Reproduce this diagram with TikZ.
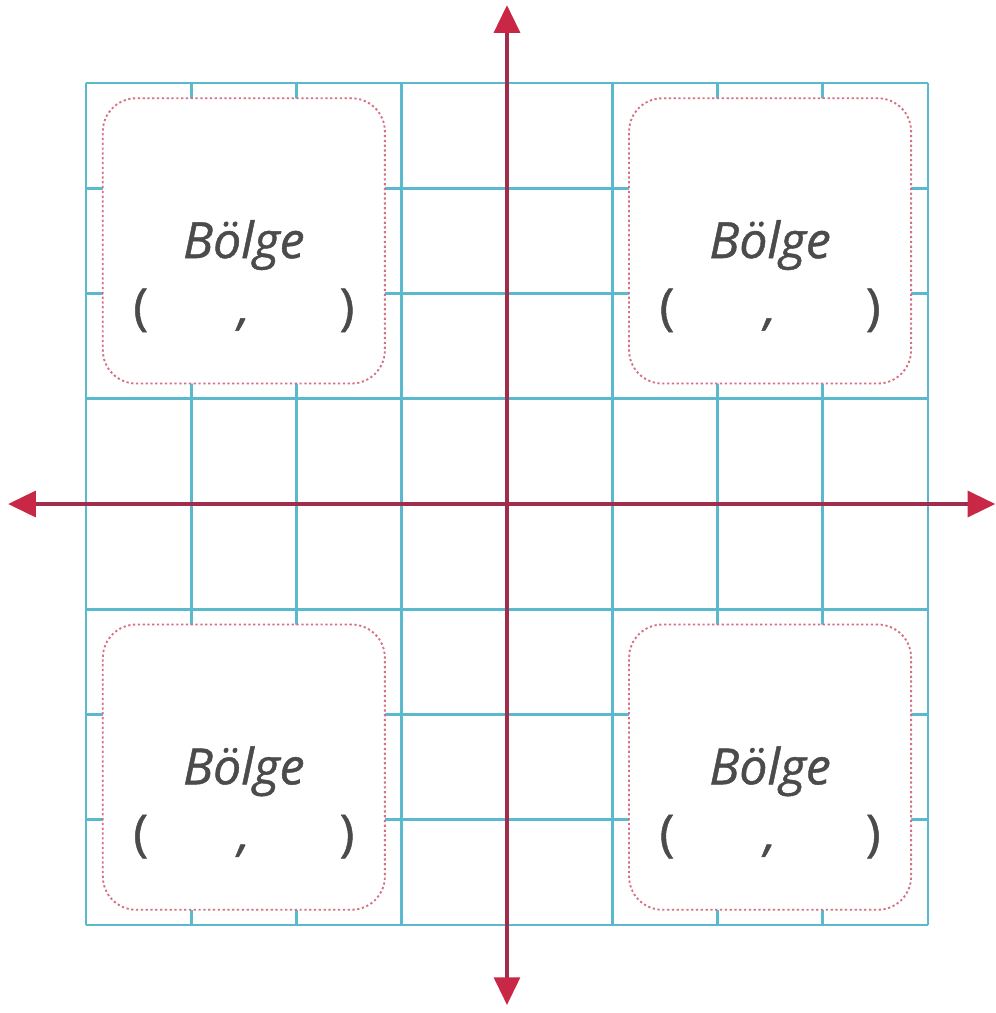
\documentclass[tikz,border=0pt]{standalone}
\usepackage{fontspec}
\setmainfont{Open Sans}
\newfontfamily\regionfont{Open Sans}[FakeBold=0.9]
\usepackage{tikz}
\usetikzlibrary{arrows.meta,positioning}
\definecolor{gridcyan}{RGB}{90,185,205}
\definecolor{axisred}{RGB}{160,45,75}
\definecolor{tipred}{RGB}{200,40,70}
\definecolor{dotred}{RGB}{215,110,130}
\definecolor{textgray}{RGB}{75,75,75}
\tikzset{every picture/.style={line width=0.75pt}}
\tikzset{
  gridline/.style={draw=gridcyan, line width=0.7pt},
  region/.style={draw=dotred, line width=0.5pt, dash pattern=on 0.6pt off 0.7pt,
    fill=white, rounded corners=9pt, minimum width=2.68cm, minimum height=2.71cm, inner sep=0pt},
  regionlabel/.style={text=textgray, font=\regionfont\itshape\fontsize{13.5}{15}\selectfont},
  regionpar/.style={text=textgray, font=\regionfont\fontsize{13.5}{15}\selectfont, inner sep=0pt,
    text height=0.76em, text depth=0.24em},
  axis/.style={draw=axisred, line width=1pt,
    {Triangle[length=7.5pt,width=7pt,color=tipred]}-{Triangle[length=7.5pt,width=7pt,color=tipred]}}
}
\begin{document}
\begin{tikzpicture}
\useasboundingbox (-4.817,-4.836) rectangle (4.646,4.789);
% grid
\draw[gridline] (-4,-4) grid (4,4);
% regions
\foreach \name/\sx/\sy in {I/1/1, II/-1/1, III/-1/-1, IV/1/-1}{
  \node[region] (\name) at ({2.5*\sx},{2.5*\sy}) {};
  \node[regionlabel] (\name-title) at ([yshift=-0.04cm]\name.center) {Bölge};
  \node[regionpar] (\name-comma) at ([yshift=-0.7cm]\name.center) {\itshape ,};
  \node[regionpar] (\name-open) at ([xshift=-0.98cm]\name-comma.center) {(};
  \node[regionpar] (\name-close) at ([xshift=0.98cm]\name-comma.center) {)};
}
% axes
\coordinate (xmin) at (-4.74,0);
\coordinate (xmax) at (4.64,0);
\coordinate (ymin) at (0,-4.76);
\coordinate (ymax) at (0,4.74);
\draw[axis] (xmin) -- (xmax);
\draw[axis] (ymin) -- (ymax);
\end{tikzpicture}
\end{document}
